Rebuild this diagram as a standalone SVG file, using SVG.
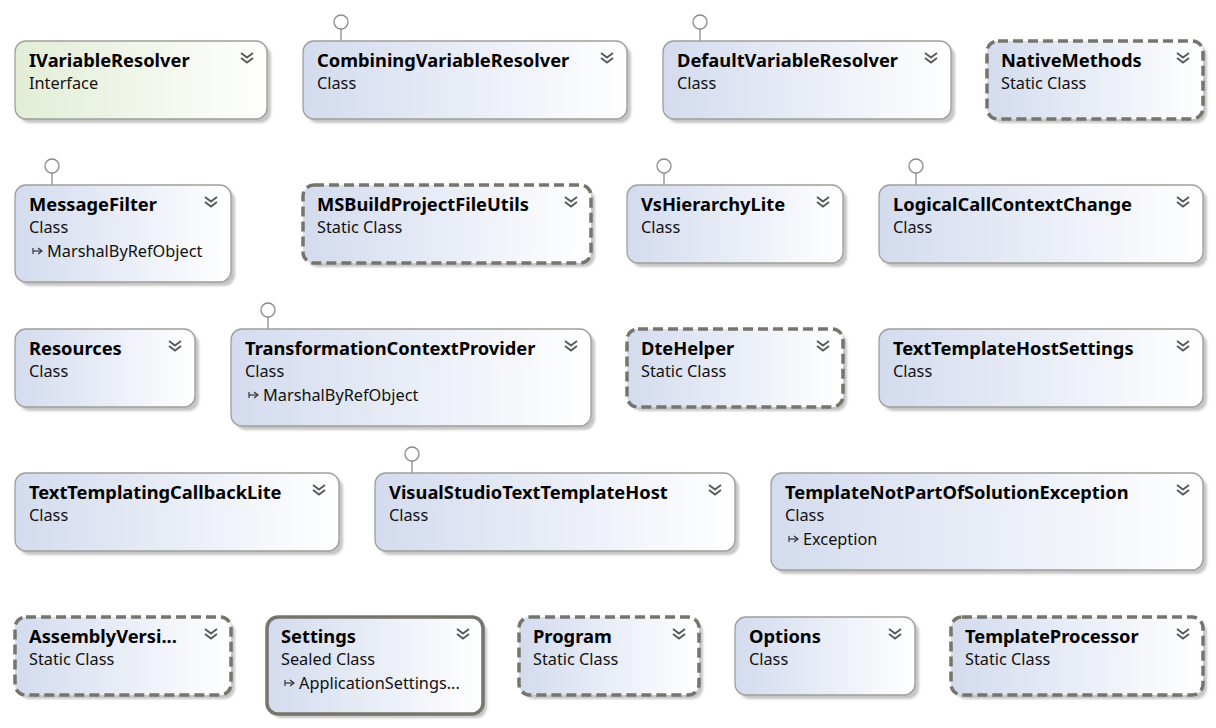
<svg xmlns="http://www.w3.org/2000/svg" width="1216" height="728" viewBox="0 0 1216 728">
<defs>
<linearGradient id="gc" x1="0" y1="0" x2="1" y2="0"><stop offset="0" stop-color="#d3dbee"/><stop offset="1" stop-color="#ffffff"/></linearGradient>
<linearGradient id="gi" x1="0" y1="0" x2="1" y2="0"><stop offset="0" stop-color="#e2edd6"/><stop offset="1" stop-color="#ffffff"/></linearGradient>
<filter id="sh" x="-10%" y="-10%" width="130%" height="140%"><feGaussianBlur stdDeviation="1.2"/></filter>
<g id="chev"><polyline points="-6,0 0,4.5 6,0" fill="none" stroke="#5a5a5a" stroke-width="2"/><polyline points="-6,5 0,9.5 6,5" fill="none" stroke="#5a5a5a" stroke-width="2"/></g>
<g id="inh"><path d="M0,0 L8,0" stroke="#333" stroke-width="1.2"/><path d="M5,-3 L9,0 L5,3" fill="none" stroke="#333" stroke-width="1.2"/><path d="M0,-3 L0,3" stroke="#333" stroke-width="1.2"/></g>
</defs>
<style>
.sh{fill:#c6c6c6;filter:url(#sh)}
.box{fill:url(#gc);stroke:#a09e99;stroke-width:1.3}
.ifc{fill:url(#gi);stroke:#a09e99;stroke-width:1.3}
.dash{fill:url(#gc);stroke:#77746c;stroke-width:3.5;stroke-dasharray:10 5}
.seal{fill:url(#gc);stroke:#77746c;stroke-width:3.5}
.t{font-family:"Segoe UI","Noto Sans","Open Sans",sans-serif;font-weight:bold;font-size:18.3px;fill:#000}
.s{font-family:"Segoe UI","Noto Sans","Open Sans",sans-serif;font-size:16.3px;fill:#111}
.lp{fill:#fff;stroke:#8a8a8a;stroke-width:1.3}
.ll{stroke:#8a8a8a;stroke-width:1.3}
</style>
<g id="connectors">
<line class="ll" x1="341" y1="29" x2="341" y2="41"/><circle class="lp" cx="341" cy="22" r="7"/>
<line class="ll" x1="700" y1="29" x2="700" y2="41"/><circle class="lp" cx="700" cy="22" r="7"/>
<line class="ll" x1="52" y1="173" x2="52" y2="185"/><circle class="lp" cx="52" cy="166" r="7"/>
<line class="ll" x1="664" y1="173" x2="664" y2="185"/><circle class="lp" cx="664" cy="166" r="7"/>
<line class="ll" x1="916" y1="173" x2="916" y2="185"/><circle class="lp" cx="916" cy="166" r="7"/>
<line class="ll" x1="268" y1="317" x2="268" y2="329"/><circle class="lp" cx="268" cy="310" r="7"/>
<line class="ll" x1="412" y1="461" x2="412" y2="473"/><circle class="lp" cx="412" cy="454" r="7"/>
</g>
<g id="IVariableResolver"><rect class="sh" x="19" y="45" width="252" height="78" rx="11"/><rect class="ifc" x="15" y="41" width="252" height="78" rx="11"/><text class="t" x="29" y="67">IVariableResolver</text><text class="s" x="29" y="89">Interface</text><use href="#chev" x="247" y="53"/></g>
<g id="CombiningVariableResolver"><rect class="sh" x="307" y="45" width="324" height="78" rx="11"/><rect class="box" x="303" y="41" width="324" height="78" rx="11"/><text class="t" x="317" y="67">CombiningVariableResolver</text><text class="s" x="317" y="89">Class</text><use href="#chev" x="607" y="53"/></g>
<g id="DefaultVariableResolver"><rect class="sh" x="667" y="45" width="288" height="78" rx="11"/><rect class="box" x="663" y="41" width="288" height="78" rx="11"/><text class="t" x="677" y="67">DefaultVariableResolver</text><text class="s" x="677" y="89">Class</text><use href="#chev" x="931" y="53"/></g>
<g id="NativeMethods"><rect class="sh" x="991" y="45" width="216" height="78" rx="11"/><rect class="dash" x="987" y="41" width="216" height="78" rx="11"/><text class="t" x="1001" y="67">NativeMethods</text><text class="s" x="1001" y="89">Static Class</text><use href="#chev" x="1183" y="53"/></g>
<g id="MessageFilter"><rect class="sh" x="19" y="189" width="216" height="97" rx="11"/><rect class="box" x="15" y="185" width="216" height="97" rx="11"/><text class="t" x="29" y="211">MessageFilter</text><text class="s" x="29" y="233">Class</text><use href="#inh" x="33" y="251"/><text class="s" x="47" y="257">MarshalByRefObject</text><use href="#chev" x="211" y="197"/></g>
<g id="MSBuildProjectFileUtils"><rect class="sh" x="307" y="189" width="288" height="78" rx="11"/><rect class="dash" x="303" y="185" width="288" height="78" rx="11"/><text class="t" x="317" y="211">MSBuildProjectFileUtils</text><text class="s" x="317" y="233">Static Class</text><use href="#chev" x="571" y="197"/></g>
<g id="VsHierarchyLite"><rect class="sh" x="631" y="189" width="216" height="78" rx="11"/><rect class="box" x="627" y="185" width="216" height="78" rx="11"/><text class="t" x="641" y="211">VsHierarchyLite</text><text class="s" x="641" y="233">Class</text><use href="#chev" x="823" y="197"/></g>
<g id="LogicalCallContextChange"><rect class="sh" x="883" y="189" width="324" height="78" rx="11"/><rect class="box" x="879" y="185" width="324" height="78" rx="11"/><text class="t" x="893" y="211">LogicalCallContextChange</text><text class="s" x="893" y="233">Class</text><use href="#chev" x="1183" y="197"/></g>
<g id="Resources"><rect class="sh" x="19" y="333" width="180" height="78" rx="11"/><rect class="box" x="15" y="329" width="180" height="78" rx="11"/><text class="t" x="29" y="355">Resources</text><text class="s" x="29" y="377">Class</text><use href="#chev" x="175" y="341"/></g>
<g id="TransformationContextProvider"><rect class="sh" x="235" y="333" width="360" height="97" rx="11"/><rect class="box" x="231" y="329" width="360" height="97" rx="11"/><text class="t" x="245" y="355">TransformationContextProvider</text><text class="s" x="245" y="377">Class</text><use href="#inh" x="249" y="395"/><text class="s" x="263" y="401">MarshalByRefObject</text><use href="#chev" x="571" y="341"/></g>
<g id="DteHelper"><rect class="sh" x="631" y="333" width="216" height="78" rx="11"/><rect class="dash" x="627" y="329" width="216" height="78" rx="11"/><text class="t" x="641" y="355">DteHelper</text><text class="s" x="641" y="377">Static Class</text><use href="#chev" x="823" y="341"/></g>
<g id="TextTemplateHostSettings"><rect class="sh" x="883" y="333" width="324" height="78" rx="11"/><rect class="box" x="879" y="329" width="324" height="78" rx="11"/><text class="t" x="893" y="355">TextTemplateHostSettings</text><text class="s" x="893" y="377">Class</text><use href="#chev" x="1183" y="341"/></g>
<g id="TextTemplatingCallbackLite"><rect class="sh" x="19" y="477" width="324" height="78" rx="11"/><rect class="box" x="15" y="473" width="324" height="78" rx="11"/><text class="t" x="29" y="499">TextTemplatingCallbackLite</text><text class="s" x="29" y="521">Class</text><use href="#chev" x="319" y="485"/></g>
<g id="VisualStudioTextTemplateHost"><rect class="sh" x="379" y="477" width="360" height="78" rx="11"/><rect class="box" x="375" y="473" width="360" height="78" rx="11"/><text class="t" x="389" y="499">VisualStudioTextTemplateHost</text><text class="s" x="389" y="521">Class</text><use href="#chev" x="715" y="485"/></g>
<g id="TemplateNotPartOfSolutionException"><rect class="sh" x="775" y="477" width="432" height="97" rx="11"/><rect class="box" x="771" y="473" width="432" height="97" rx="11"/><text class="t" x="785" y="499">TemplateNotPartOfSolutionException</text><text class="s" x="785" y="521">Class</text><use href="#inh" x="789" y="539"/><text class="s" x="803" y="545">Exception</text><use href="#chev" x="1183" y="485"/></g>
<g id="AssemblyVersionInfo"><rect class="sh" x="19" y="621" width="216" height="78" rx="11"/><rect class="dash" x="15" y="617" width="216" height="78" rx="11"/><text class="t" x="29" y="643">AssemblyVersi...</text><text class="s" x="29" y="665">Static Class</text><use href="#chev" x="211" y="629"/></g>
<g id="Settings"><rect class="sh" x="271" y="621" width="216" height="97" rx="11"/><rect class="seal" x="267" y="617" width="216" height="97" rx="11"/><text class="t" x="281" y="643">Settings</text><text class="s" x="281" y="665">Sealed Class</text><use href="#inh" x="285" y="683"/><text class="s" x="299" y="689">ApplicationSettings...</text><use href="#chev" x="463" y="629"/></g>
<g id="Program"><rect class="sh" x="523" y="621" width="180" height="78" rx="11"/><rect class="dash" x="519" y="617" width="180" height="78" rx="11"/><text class="t" x="533" y="643">Program</text><text class="s" x="533" y="665">Static Class</text><use href="#chev" x="679" y="629"/></g>
<g id="Options"><rect class="sh" x="739" y="621" width="180" height="78" rx="11"/><rect class="box" x="735" y="617" width="180" height="78" rx="11"/><text class="t" x="749" y="643">Options</text><text class="s" x="749" y="665">Class</text><use href="#chev" x="895" y="629"/></g>
<g id="TemplateProcessor"><rect class="sh" x="955" y="621" width="252" height="78" rx="11"/><rect class="dash" x="951" y="617" width="252" height="78" rx="11"/><text class="t" x="965" y="643">TemplateProcessor</text><text class="s" x="965" y="665">Static Class</text><use href="#chev" x="1183" y="629"/></g>
</svg>
